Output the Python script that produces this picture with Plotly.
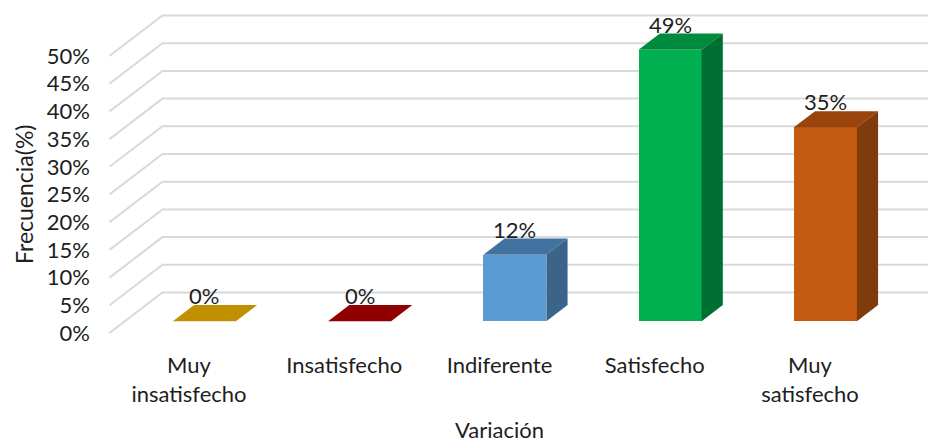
import plotly.graph_objects as go

# ---------------- data ----------------
categories = ["Muy<br>insatisfecho", "Insatisfecho", "Indiferente", "Satisfecho", "Muy<br>satisfecho"]
values = [0, 0, 12, 49, 35]
value_labels = ["0%", "0%", "12%", "49%", "35%"]
y_ticks = [0, 5, 10, 15, 20, 25, 30, 35, 40, 45, 50]
y_tick_labels = ["0%", "5%", "10%", "15%", "20%", "25%", "30%", "35%", "40%", "45%", "50%"]
x_title = "Variación"
y_title = "Frecuencia(%)"

# ---------------- styles ----------------
front_colors = ["#FFC000", "#C00000", "#5B9BD5", "#00B050", "#C55A11"]
top_colors = ["#C09000", "#900000", "#4372A0", "#008A3E", "#98440C"]
side_colors = ["#C09000", "#900000", "#3A6489", "#007032", "#7F3B0B"]
FONT = "Lato"
FS = 22
TXT = "#1E1E1E"
GRID = "#D9D9D9"

W, H = 928, 443
L, R, T, B = 109, 0, 10, 103
PX_CAT = 155.25      # pixels per category
PX_PCT = 5.54        # pixels per percent
X0_PX = 189          # pixel of category 0 on front plane
Y0_PX = 333          # pixel of 0% on front plane

x_range = [(L - X0_PX) / PX_CAT, (W - R - X0_PX) / PX_CAT]
y_range = [-(H - B - Y0_PX) / PX_PCT, (Y0_PX - T) / PX_PCT]

BACK_DX = 53 / PX_CAT
BACK_DY = 40.5 / PX_PCT
F_FRONT, F_BACK = 0.29, 0.69
BAR_W = 63 / PX_CAT

fdx, fdy = F_FRONT * BACK_DX, F_FRONT * BACK_DY
ddx, ddy = (F_BACK - F_FRONT) * BACK_DX, (F_BACK - F_FRONT) * BACK_DY

fig = go.Figure()

# back-wall gridlines (front-left diagonal + back horizontal)
shapes = []
for v in y_ticks:
    xl = x_range[0] + 0.003
    path = (f"M {xl},{v} L {xl + BACK_DX},{v + BACK_DY} "
            f"L {x_range[1] + 1},{v + BACK_DY}")
    shapes.append(dict(type="path", path=path, xref="x", yref="y",
                       line=dict(color=GRID, width=2), layer="below"))

idx = list(range(len(categories)))

# front faces
fig.add_trace(go.Bar(
    x=[i + fdx for i in idx], y=values, base=[fdy] * len(values),
    width=BAR_W, marker=dict(color=front_colors, line=dict(width=0)),
    hoverinfo="skip", showlegend=False))

# top and side faces
for i, v in enumerate(values):
    xl = i + fdx - BAR_W / 2
    xr = i + fdx + BAR_W / 2
    y0 = fdy
    y1 = v + fdy
    fig.add_trace(go.Scatter(
        x=[xl, xr, xr + ddx, xl + ddx, xl],
        y=[y1, y1, y1 + ddy, y1 + ddy, y1],
        fill="toself", fillcolor=top_colors[i], mode="lines",
        line=dict(width=0, color=top_colors[i]), hoverinfo="skip", showlegend=False))
    if v > 0:
        fig.add_trace(go.Scatter(
            x=[xr, xr, xr + ddx, xr + ddx, xr],
            y=[y0, y1, y1 + ddy, y0 + ddy, y0],
            fill="toself", fillcolor=side_colors[i], mode="lines",
            line=dict(width=0, color=side_colors[i]), hoverinfo="skip", showlegend=False))

annotations = []
for i, v in enumerate(values):
    annotations.append(dict(
        x=i + fdx, y=v + F_BACK * BACK_DY, xref="x", yref="y",
        text=value_labels[i], showarrow=False, yanchor="bottom", yshift=-6,
        font=dict(family=FONT, size=FS, color=TXT)))

annotations.append(dict(
    x=(24 - L) / (W - L - R), y=(H - B - 194) / (H - T - B), xref="paper", yref="paper",
    text=y_title, textangle=-90, showarrow=False, xanchor="center", yanchor="middle",
    font=dict(family=FONT, size=23, color=TXT)))
annotations.append(dict(
    x=(499 - L) / (W - L - R), y=(H - B - 429) / (H - T - B), xref="paper", yref="paper",
    text=x_title, showarrow=False, xanchor="center", yanchor="middle",
    font=dict(family=FONT, size=FS, color=TXT)))

fig.update_layout(
    width=W, height=H, margin=dict(l=L, r=R, t=T, b=B),
    paper_bgcolor="white", plot_bgcolor="white",
    shapes=shapes, annotations=annotations, bargap=0,
    font=dict(family=FONT, size=FS, color=TXT),
    xaxis=dict(range=x_range, tickvals=idx, ticktext=categories,
               showgrid=False, zeroline=False, showline=False, ticks="",
               ticklabelstandoff=10, fixedrange=True),
    yaxis=dict(range=y_range, tickvals=y_ticks, ticktext=y_tick_labels,
               showgrid=False, zeroline=False, showline=False, ticks="",
               ticklabelstandoff=18, fixedrange=True),
)

fig.write_html("out.html")
